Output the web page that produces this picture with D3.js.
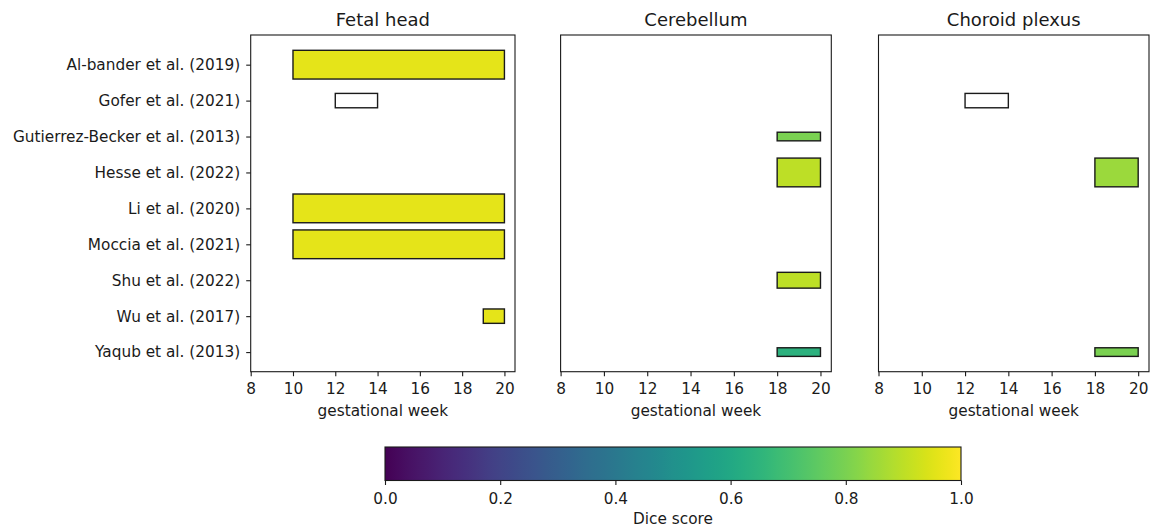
<!DOCTYPE html>
<html lang="en">
<head>
<meta charset="UTF-8">
<title>Gestational week coverage per study</title>
<script src="https://d3js.org/d3.v7.min.js"></script>
<style>
  body { margin: 0; background: #fff; }
  text { font-family: "DejaVu Sans", sans-serif; fill: #1a1a1a; }
</style>
</head>
<body>
<script>
// studies on the y axis (top to bottom)
var studies = [
    "Al-bander et al. (2019)",
    "Gofer et al. (2021)",
    "Gutierrez-Becker et al. (2013)",
    "Hesse et al. (2022)",
    "Li et al. (2020)",
    "Moccia et al. (2021)",
    "Shu et al. (2022)",
    "Wu et al. (2017)",
    "Yaqub et al. (2013)"
];

var weekTicks = [8, 10, 12, 14, 16, 18, 20];
var diceTicks = [0, 0.2, 0.4, 0.6, 0.8, 1.0];

// [study, first week, last week, bar height, dice score (null = not reported)]
var fetalHead = [
    ["Al-bander et al. (2019)", 10, 20, 0.8, 0.96],
    ["Gofer et al. (2021)", 12, 14, 0.4, null],
    ["Li et al. (2020)", 10, 20, 0.8, 0.96],
    ["Moccia et al. (2021)", 10, 20, 0.8, 0.96],
    ["Wu et al. (2017)", 19, 20, 0.4, 0.96]
];
var cerebellum = [
    ["Gutierrez-Becker et al. (2013)", 18, 20, 0.24, 0.80],
    ["Hesse et al. (2022)", 18, 20, 0.8, 0.90],
    ["Shu et al. (2022)", 18, 20, 0.44, 0.90],
    ["Yaqub et al. (2013)", 18, 20, 0.24, 0.64]
];
var choroidPlexus = [
    ["Gofer et al. (2021)", 12, 14, 0.4, null],
    ["Hesse et al. (2022)", 18, 20, 0.8, 0.85],
    ["Yaqub et al. (2013)", 18, 20, 0.24, 0.80]
];

var panels = [
    {title: "Fetal head", data: fetalHead, left: 250.7, right: 515, labels: true},
    {title: "Cerebellum", data: cerebellum, left: 560.6, right: 831.3, labels: false},
    {title: "Choroid plexus", data: choroidPlexus, left: 878.5, right: 1149, labels: false}
];

var plotTop = 35, plotBottom = 371.7;
var tickFont = "15.3px";

var svg = d3.select("body").append("svg")
    .attr("width", 1162)
    .attr("height", 527);

var y = d3.scaleLinear().domain([-0.826, 8.546]).range([plotTop, plotBottom]);

panels.forEach(function (p) {
    var x = d3.scaleLinear().domain([8, 20.5]).range([p.left, p.right]);
    var g = svg.append("g");

    g.selectAll("rect.bar")
        .data(p.data)
        .enter().append("rect")
        .attr("class", "bar")
        .attr("x", function (d) { return x(d[1]); })
        .attr("width", function (d) { return x(d[2]) - x(d[1]); })
        .attr("y", function (d) { return y(studies.indexOf(d[0]) - d[3] / 2); })
        .attr("height", function (d) { return y(d[3]) - y(0); })
        .attr("fill", function (d) { return d[4] === null ? "#fff" : d3.interpolateViridis(d[4]); })
        .attr("stroke", "#1a1a1a")
        .attr("stroke-width", 1.4);

    // axes frame
    g.append("rect")
        .attr("x", p.left).attr("y", plotTop)
        .attr("width", p.right - p.left).attr("height", plotBottom - plotTop)
        .attr("fill", "none").attr("stroke", "#1a1a1a").attr("stroke-width", 1.1);

    var xAxis = g.append("g")
        .attr("transform", "translate(0," + plotBottom + ")")
        .call(d3.axisBottom(x).tickValues(weekTicks).tickSize(4.5).tickPadding(7));
    xAxis.select(".domain").remove();
    xAxis.selectAll("text").style("font-size", tickFont).attr("fill", "#1a1a1a");
    xAxis.selectAll("line").attr("stroke", "#1a1a1a").attr("stroke-width", 1.1);

    if (p.labels) {
        var yAxis = g.append("g")
            .attr("transform", "translate(" + p.left + ",0)")
            .call(d3.axisLeft(y).tickValues(d3.range(studies.length))
                .tickFormat(function (i) { return studies[i]; })
                .tickSize(4.5).tickPadding(6));
        yAxis.select(".domain").remove();
        yAxis.selectAll("text").style("font-size", tickFont).attr("fill", "#1a1a1a");
        yAxis.selectAll("line").attr("stroke", "#1a1a1a").attr("stroke-width", 1.1);
    }

    var cx = (p.left + p.right) / 2;
    g.append("text")
        .attr("x", cx).attr("y", 26)
        .attr("text-anchor", "middle")
        .style("font-size", "18px")
        .text(p.title);

    g.append("text")
        .attr("x", cx).attr("y", 416)
        .attr("text-anchor", "middle")
        .style("font-size", tickFont)
        .text("gestational week");
});

// colorbar
var cb = {left: 385, right: 961, top: 447, bottom: 480.5};
var c = d3.scaleLinear().domain([0, 1]).range([cb.left, cb.right]);

var grad = svg.append("defs").append("linearGradient")
    .attr("id", "viridis")
    .attr("x1", "0%").attr("x2", "100%").attr("y1", "0%").attr("y2", "0%");
grad.selectAll("stop")
    .data(d3.range(0, 1.0001, 0.02))
    .enter().append("stop")
    .attr("offset", function (t) { return (t * 100) + "%"; })
    .attr("stop-color", function (t) { return d3.interpolateViridis(t); });

svg.append("rect")
    .attr("x", cb.left).attr("y", cb.top)
    .attr("width", cb.right - cb.left).attr("height", cb.bottom - cb.top)
    .attr("fill", "url(#viridis)")
    .attr("stroke", "#1a1a1a").attr("stroke-width", 1.1);

var cAxis = svg.append("g")
    .attr("transform", "translate(0," + cb.bottom + ")")
    .call(d3.axisBottom(c).tickValues(diceTicks).tickFormat(d3.format(".1f")).tickSize(4.5).tickPadding(8));
cAxis.select(".domain").remove();
cAxis.selectAll("text").style("font-size", tickFont).attr("fill", "#1a1a1a");
cAxis.selectAll("line").attr("stroke", "#1a1a1a").attr("stroke-width", 1.1);

svg.append("text")
    .attr("x", (cb.left + cb.right) / 2).attr("y", 523.5)
    .attr("text-anchor", "middle")
    .style("font-size", tickFont)
    .text("Dice score");
</script>
</body>
</html>
